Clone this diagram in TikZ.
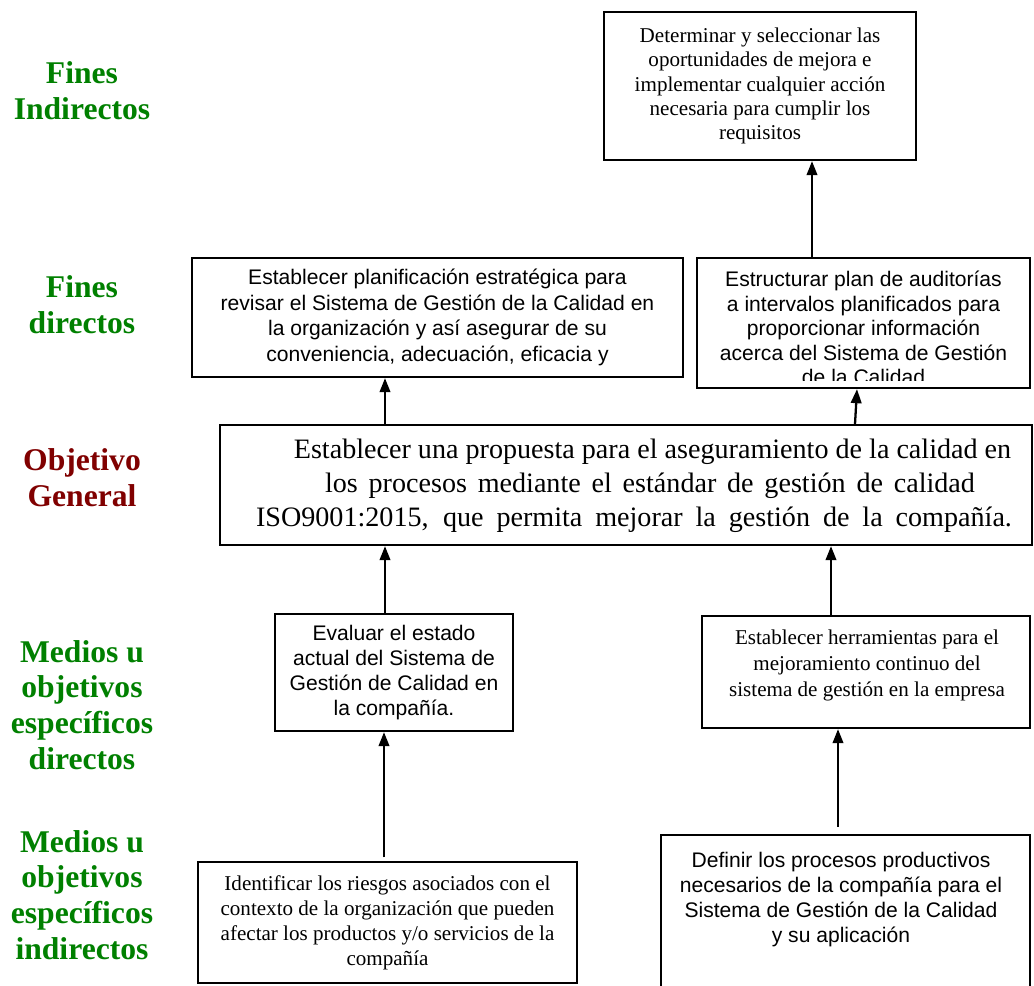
\documentclass[tikz,border=0pt]{standalone}
\usepackage{fontspec}
\setmainfont{Liberation Serif}
\newfontfamily\arialfont{Liberation Sans}
\usetikzlibrary{arrows.meta}
\definecolor{finesgreen}{RGB}{0,128,0}
\definecolor{objred}{RGB}{128,0,0}

\begin{document}
\begin{tikzpicture}[x=0.02cm, y=-0.02cm,
  boxframe/.style={draw, line width=1.3pt, inner sep=0pt, align=center},
  romantxt/.style={font=\fontsize{12}{14.2}\selectfont, align=center},
  sanstxt/.style={font=\arialfont\fontsize{12}{14.2}\selectfont, align=center},
  levelname/.style={font=\bfseries\fontsize{18}{20.4}\selectfont, align=center, text=finesgreen},
  uparrow/.style={-{Triangle[length=8pt, width=6pt]}, line width=1.3pt}
]
\useasboundingbox (0,0) rectangle (1034,985);

% level names
\node[levelname] (lvfi) at (82,91) {Fines\\Indirectos};
\node[levelname] (lvfd) at (82,305) {Fines\\directos};
\node[levelname, text=objred] (lvog) at (82,478) {Objetivo\\General};
\node[levelname] (lvmd) at (82,705) {Medios u\\objetivos\\específicos\\directos};
\node[levelname] (lvmi) at (82,895) {Medios u\\objetivos\\específicos\\indirectos};

% fines
\node[boxframe, romantxt, font=\fontsize{12}{13.9}\selectfont, minimum width=6.24cm, minimum height=2.96cm] (fitop) at (760,86)
  {Determinar y seleccionar las\\oportunidades de mejora e\\implementar cualquier acción\\necesaria para cumplir los\\requisitos};
\node[boxframe, sanstxt, font=\arialfont\fontsize{12}{14.6}\selectfont,
  minimum width=9.82cm, minimum height=2.38cm] (fdleft) at (437.5,317.5)
  {Establecer planificación estratégica para\\revisar el Sistema de Gestión de la Calidad en\\la organización y así asegurar de su\\conveniencia, adecuación, eficacia y};
\node[boxframe, minimum width=6.66cm, minimum height=2.6cm] (fdright) at (863.5,323) {};
\begin{scope}
  \clip (699,260) rectangle (1028,380);
  \node[sanstxt, font=\arialfont\fontsize{12}{13.9}\selectfont, anchor=north, inner sep=0pt] (fdrighttxt) at (863.5,271)
    {Estructurar plan de auditorías\\a intervalos planificados para\\proporcionar información\\acerca del Sistema de Gestión\\de la Calidad};
\end{scope}

% objetivo general
\node[boxframe, minimum width=16.24cm, minimum height=2.4cm] (objgen) at (626,485) {};
\node[romantxt, font=\fontsize{16}{19.3}\selectfont] (objgentxt) at (634,486)
  {\hspace*{0.74cm}Establecer una propuesta para el aseguramiento de la calidad en\\
   \hspace*{0.64cm}\makebox[13cm][s]{los procesos mediante el estándar de gestión de calidad}\\
   \makebox[15.12cm][s]{ISO9001:2015, que permita mejorar la gestión de la compañía.}};

% medios
\node[boxframe, sanstxt, minimum width=4.76cm, minimum height=2.34cm] (mdleft) at (394,672.5)
  {Evaluar el estado\\actual del Sistema de\\Gestión de Calidad en\\la compañía.};
\node[boxframe, minimum width=6.56cm, minimum height=2.24cm] (mdright) at (866,672) {};
\node[romantxt, font=\fontsize{12}{14.7}\selectfont, anchor=north, inner sep=0pt] (mdrighttxt) at (867,630)
  {Establecer herramientas para el\\mejoramiento continuo del\\sistema de gestión en la empresa};
\node[boxframe, romantxt, minimum width=7.58cm, minimum height=2.42cm] (mileft) at (387.5,922.5)
  {Identificar los riesgos asociados con el\\contexto de la organización que pueden\\afectar los productos y/o servicios de la\\compañía};
\node[boxframe, minimum width=7.38cm, minimum height=3.3cm] (miright) at (845.5,917.5) {};
\node[sanstxt, anchor=north, inner sep=0pt] (mirighttxt) at (841,852)
  {Definir los procesos productivos\\necesarios de la compañía para el\\Sistema de Gestión de la Calidad\\y su aplicación};

% arrows
\draw[uparrow] (fdright.north -| 812,0) -- (fitop.south -| 812,0);
\draw[uparrow] (objgen.north -| 385,0) -- (fdleft.south -| 385,0);
\draw[uparrow] (objgen.north -| 855,0) -- (fdright.south -| 857,0);
\draw[uparrow] (mdleft.north -| 385,0) -- (objgen.south -| 385,0);
\draw[uparrow] (mdright.north -| 831,0) -- (objgen.south -| 831,0);
\draw[uparrow, shorten <=2pt] (mileft.north -| 384,0) -- (mdleft.south -| 384,0);
\draw[uparrow, shorten <=4pt] (miright.north -| 838,0) -- (mdright.south -| 838,0);
\end{tikzpicture}
\end{document}
